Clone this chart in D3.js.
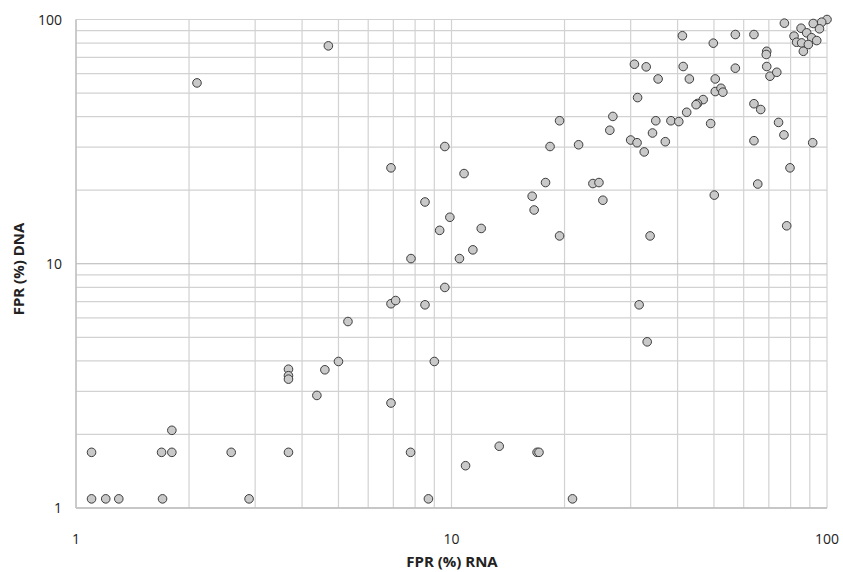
<!DOCTYPE html>
<html>
<head>
<meta charset="utf-8">
<script src="https://cdn.jsdelivr.net/npm/d3@7"></script>
<style>
  body { margin: 0; background: #fff; }
  svg { font-family: "Open Sans", "Liberation Sans", sans-serif; }
</style>
</head>
<body>
<svg width="843" height="572"></svg>
<script>
// FPR (%) values, one entry per sample
var rna = [4.7, 2.1, 9.6, 6.9, 8.5, 9.9, 9.3, 7.8,
    77, 100, 96.8, 91.9, 95.5, 85.3, 81.7, 88.3, 91.0, 93.9, 83.0, 85.6, 89.2, 86.5,
    41.2, 49.8, 57.0, 63.9, 69.1, 68.9, 30.7, 33.0, 41.4, 57.0, 69.1, 70.5, 73.5,
    35.5, 43.0, 50.4, 50.4, 52.2, 52.8, 31.3, 46.8, 45.2, 44.8, 63.9, 66.6, 42.3,
    26.9, 19.4, 35.0, 38.4, 40.3, 49.0, 74.3, 26.4, 34.3, 76.8, 30.0, 31.2, 37.1,
    63.9, 91.6, 21.8, 18.3, 32.6, 10.8, 79.7, 17.8, 23.8, 24.7, 65.4, 16.4, 25.3,
    50.1, 16.6, 12.0, 11.4, 10.5, 19.4, 33.8, 78.1,
    9.6, 6.9, 7.1, 8.5, 5.3, 5.0, 9.0, 3.68, 3.68, 3.68, 4.6, 4.38, 6.9, 1.8,
    1.1, 1.69, 1.8, 2.59, 3.68, 7.78,
    1.1, 1.2, 1.3, 1.7, 2.89, 8.68,
    31.6, 33.2, 13.4, 16.9, 17.1, 10.9, 21.0];
var dna = [78, 55, 30.2, 24.7, 17.9, 15.5, 13.7, 10.5,
    96.6, 100, 97.5, 96.3, 91.6, 92.1, 85.5, 88.2, 84.2, 82.0, 80.7, 80.2, 79.0, 74.1,
    85.8, 80.0, 86.8, 86.8, 74.1, 71.9, 65.6, 64.0, 64.2, 63.2, 64.2, 58.6, 60.8,
    57.1, 57.1, 57.1, 50.7, 52.3, 50.4, 47.9, 47.0, 45.3, 44.8, 45.2, 42.8, 41.7,
    40.1, 38.5, 38.5, 38.5, 38.2, 37.5, 37.9, 35.2, 34.3, 33.7, 32.1, 31.3, 31.6,
    31.9, 31.3, 30.7, 30.2, 28.7, 23.4, 24.7, 21.5, 21.3, 21.5, 21.2, 18.9, 18.2,
    19.1, 16.6, 13.95, 11.4, 10.5, 13.0, 13.0, 14.3,
    8.0, 6.86, 7.07, 6.79, 5.8, 3.98, 3.98, 3.7, 3.48, 3.37, 3.68, 2.89, 2.69, 2.08,
    1.69, 1.69, 1.69, 1.69, 1.69, 1.69,
    1.09, 1.09, 1.09, 1.09, 1.09, 1.09,
    6.79, 4.79, 1.79, 1.69, 1.69, 1.49, 1.09];
var xTicks = [1, 10, 100];
var yTicks = [1, 10, 100];

var svg = d3.select("svg");
var plotL = 76, plotR = 827, plotT = 19.5, plotB = 508;

var x = d3.scaleLog().domain([1, 100]).range([plotL, plotR]);
var y = d3.scaleLog().domain([1, 100]).range([plotB, plotT]);

// minor grid: every 1..9 of each decade
var grid = [];
[1, 10].forEach(function(d) {
    for (var k = 1; k <= 10; k++) grid.push(d * k);
});
grid = Array.from(new Set(grid));

svg.append("g").selectAll("line")
    .data(grid)
    .enter().append("line")
    .attr("x1", function(d) { return x(d); })
    .attr("x2", function(d) { return x(d); })
    .attr("y1", plotT).attr("y2", plotB)
    .attr("stroke", "#d2d2d2")
    .attr("stroke-width", 1.2);

svg.append("g").selectAll("line")
    .data(grid)
    .enter().append("line")
    .attr("y1", function(d) { return y(d); })
    .attr("y2", function(d) { return y(d); })
    .attr("x1", plotL).attr("x2", plotR)
    .attr("stroke", function(d) { return d === 10 ? "#b4b4b4" : "#d2d2d2"; })
    .attr("stroke-width", 1.2);

// axis lines
svg.append("line")
    .attr("x1", plotL).attr("x2", plotL).attr("y1", plotT).attr("y2", plotB)
    .attr("stroke", "#bdbdbd").attr("stroke-width", 1.3);
svg.append("line")
    .attr("x1", plotL).attr("x2", plotR).attr("y1", plotB).attr("y2", plotB)
    .attr("stroke", "#bdbdbd").attr("stroke-width", 1.3);

// tick labels
svg.append("g").selectAll("text")
    .data(xTicks)
    .enter().append("text")
    .attr("x", function(d) { return x(d); })
    .attr("y", 544)
    .attr("text-anchor", "middle")
    .attr("font-size", 14)
    .attr("fill", "#222")
    .text(function(d) { return d; });

svg.append("g").selectAll("text")
    .data(yTicks)
    .enter().append("text")
    .attr("x", 62)
    .attr("y", function(d) { return y(d) + 5; })
    .attr("text-anchor", "end")
    .attr("font-size", 14)
    .attr("fill", "#222")
    .text(function(d) { return d; });

// axis titles
svg.append("text")
    .attr("x", 452).attr("y", 567)
    .attr("text-anchor", "middle")
    .attr("font-size", 15).attr("font-weight", "bold")
    .attr("fill", "#222")
    .text("FPR (%) RNA");

svg.append("text")
    .attr("transform", "translate(24,269) rotate(-90)")
    .attr("text-anchor", "middle")
    .attr("font-size", 15).attr("font-weight", "bold")
    .attr("fill", "#222")
    .text("FPR (%) DNA");

// points
var pts = rna.map(function(v, i) { return {x: v, y: dna[i]}; });
svg.append("g").selectAll("circle")
    .data(pts)
    .enter().append("circle")
    .attr("cx", function(d) { return x(d.x); })
    .attr("cy", function(d) { return y(d.y); })
    .attr("r", 4.3)
    .attr("fill", "#c9c9c9")
    .attr("stroke", "#3c3c3c")
    .attr("stroke-width", 1);
</script>
</body>
</html>
